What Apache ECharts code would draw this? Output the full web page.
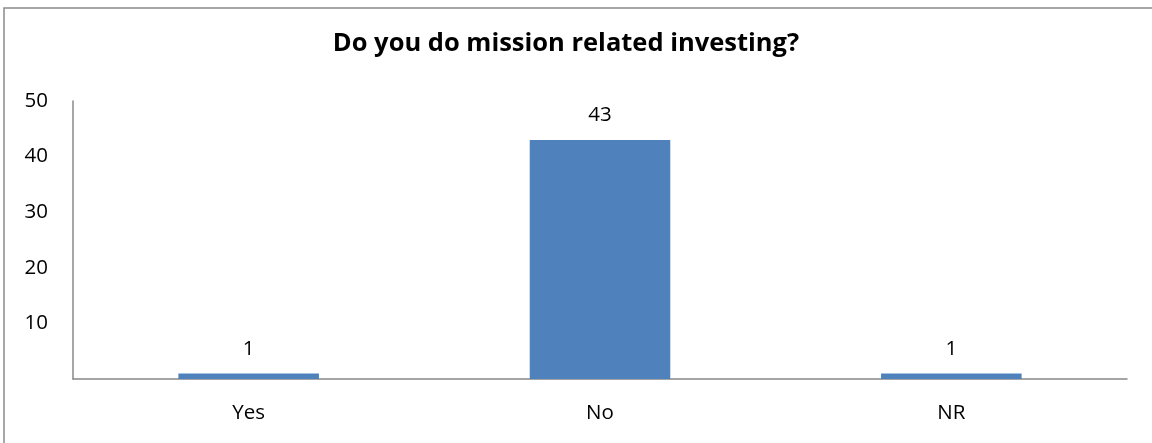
<!DOCTYPE html>
<html>
<head>
<meta charset="utf-8">
<script src="https://cdn.jsdelivr.net/npm/echarts@6/dist/echarts.min.js"></script>
<style>
    html, body { margin: 0; padding: 0; background: #fff; }
    #chart { width: 1152px; height: 443px; }
</style>
</head>
<body>
<div id="chart"></div>
<script>
    const categories = ['Yes', 'No', 'NR']
    const answers = [1, 43, 1]
    const yTicks = [0, 10, 20, 30, 40, 50]

    const chart = echarts.init(document.getElementById('chart'))

    chart.setOption({
        animation: false,
        textStyle: {
            fontFamily: 'Open Sans'
        },
        title: {
            text: 'Do you do mission related investing?',
            left: 561,
            top: 26,
            textAlign: 'center',
            textStyle: {
                fontFamily: 'Open Sans',
                fontWeight: 'bold',
                fontSize: 25.5,
                color: '#000'
            }
        },
        graphic: [{
            type: 'rect',
            shape: { x: 4, y: 8, width: 1160, height: 450 },
            style: { fill: 'none', stroke: '#8a8a8a', lineWidth: 1.5 },
            silent: true
        }],
        grid: {
            left: 73,
            right: 25,
            top: 101,
            bottom: 64
        },
        xAxis: {
            type: 'category',
            data: categories,
            axisLine: { lineStyle: { color: '#888', width: 1.5 } },
            axisTick: { show: false },
            axisLabel: {
                color: '#000',
                fontSize: 20.5,
                margin: 24
            }
        },
        yAxis: {
            type: 'value',
            min: yTicks[0],
            max: yTicks[yTicks.length - 1],
            interval: 10,
            splitLine: { show: false },
            axisLine: { show: true, lineStyle: { color: '#888', width: 1.5 } },
            axisTick: { show: false },
            axisLabel: {
                color: '#000',
                fontSize: 20.5,
                margin: 25,
                formatter: function (v) {
                    return v === 0 ? '' : v
                }
            }
        },
        series: [{
            type: 'bar',
            data: answers,
            barWidth: '40%',
            itemStyle: { color: '#4f81bd' },
            label: {
                show: true,
                position: 'top',
                distance: 14,
                color: '#000',
                fontSize: 20.5
            }
        }]
    })
</script>
</body>
</html>
